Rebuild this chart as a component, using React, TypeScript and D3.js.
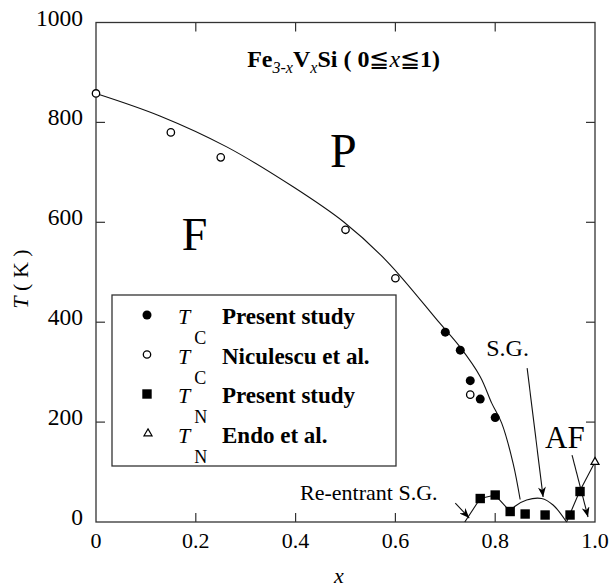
import React, { useRef, useEffect } from 'react';
import * as d3 from 'd3';

// T_C, present study (filled circles)
const tcPresentX = [0.70, 0.73, 0.75, 0.77, 0.80];
const tcPresentT = [380, 344, 283, 246, 209];
// T_C, Niculescu et al. (open circles)
const tcNicuX = [0, 0.15, 0.25, 0.5, 0.6, 0.75];
const tcNicuT = [858, 780, 730, 585, 488, 255];
// T_N, present study (filled squares)
const tnPresentX = [0.77, 0.80, 0.83, 0.86, 0.90, 0.95, 0.97];
const tnPresentT = [47, 54, 21, 16, 14, 14, 61];
// T_N, Endo et al. (open triangle)
const tnEndoX = [1.0];
const tnEndoT = [120];

// phase boundaries as drawn in the figure
const tcLineX = [0, 0.128, 0.262, 0.395, 0.496, 0.583, 0.689, 0.729, 0.77, 0.793, 0.813, 0.836, 0.85];
const tcLineT = [858, 813, 751, 671, 601, 522, 398, 351, 291, 238, 198, 117, 45];
const reLineX = [0.739, 0.77, 0.80, 0.83];
const reLineT = [0, 47, 54, 21];
const domeX = [0.83, 0.839, 0.863, 0.893, 0.916, 0.943];
const domeT = [21, 31, 44, 47, 34, 0];
const afLineX = [0.943, 0.969, 1.0];
const afLineT = [0, 61, 120];

// annotation arrows (tail -> head)
const arrowX0 = [0.72, 0.864, 0.954];
const arrowT0 = [38, 308, 134];
const arrowX1 = [0.748, 0.896, 0.986];
const arrowT1 = [8, 50, 10];

const xTicks = [0, 0.2, 0.4, 0.6, 0.8, 1.0];
const xTickLabels = ['0', '0.2', '0.4', '0.6', '0.8', '1.0'];
const yTicks = [0, 200, 400, 600, 800, 1000];
const yTickLabels = ['0', '200', '400', '600', '800', '1000'];

const legendSub = ['C', 'C', 'N', 'N'];
const legendText = ['Present study', 'Niculescu et al.', 'Present study', 'Endo et al.'];

const FONT = '"Liberation Serif", "Times New Roman", serif';

const PhaseDiagram = () => {
  const ref = useRef(null);

  useEffect(() => {
    if (!ref.current) return;
    const svg = d3.select(ref.current);
    svg.selectAll('*').remove();

    const x = d3.scaleLinear().domain([0, 1]).range([96, 595]);
    const y = d3.scaleLinear().domain([0, 1000]).range([522, 22.5]);
    const pts = (xs, ts) => xs.map((v, i) => [v, ts[i]]);

    svg.append('defs').append('marker')
      .attr('id', 'head')
      .attr('viewBox', '0 -4 10 8')
      .attr('markerUnits', 'userSpaceOnUse')
      .attr('markerWidth', 11)
      .attr('markerHeight', 8)
      .attr('refX', 10)
      .attr('refY', 0)
      .attr('orient', 'auto')
      .append('path')
      .attr('d', 'M0,-4L10,0L0,4L3,0Z')
      .attr('fill', '#000');

    // frame
    svg.append('rect')
      .attr('x', x(0)).attr('y', y(1000))
      .attr('width', x(1) - x(0)).attr('height', y(0) - y(1000))
      .attr('fill', 'none').attr('stroke', '#333').attr('stroke-width', 1.3);

    // ticks (inward, all four sides)
    const tl = 9;
    const tg = svg.append('g').attr('stroke', '#333').attr('stroke-width', 1.2);
    xTicks.slice(1, -1).forEach(t => {
      tg.append('line').attr('x1', x(t)).attr('x2', x(t)).attr('y1', y(0)).attr('y2', y(0) - tl);
      tg.append('line').attr('x1', x(t)).attr('x2', x(t)).attr('y1', y(1000)).attr('y2', y(1000) + tl);
    });
    yTicks.slice(1, -1).forEach(t => {
      tg.append('line').attr('x1', x(0)).attr('x2', x(0) + tl).attr('y1', y(t)).attr('y2', y(t));
      tg.append('line').attr('x1', x(1)).attr('x2', x(1) - tl).attr('y1', y(t)).attr('y2', y(t));
    });

    // tick labels
    xTicks.forEach((t, i) => {
      svg.append('text').attr('x', x(t)).attr('y', 548)
        .attr('text-anchor', 'middle').attr('font-family', FONT).attr('font-size', 22)
        .text(xTickLabels[i]);
    });
    yTicks.forEach((t, i) => {
      svg.append('text').attr('x', 83).attr('y', y(t) + 3)
        .attr('text-anchor', 'end').attr('font-family', FONT).attr('font-size', 23.5)
        .text(yTickLabels[i]);
    });

    // axis titles
    svg.append('text').attr('x', 339).attr('y', 583)
      .attr('text-anchor', 'middle').attr('font-family', FONT).attr('font-size', 22)
      .attr('font-style', 'italic').text('x');
    const yl = svg.append('text')
      .attr('transform', 'translate(28,279) rotate(-90)')
      .attr('text-anchor', 'middle').attr('font-family', FONT).attr('font-size', 22);
    yl.append('tspan').attr('font-style', 'italic').text('T');
    yl.append('tspan').text(' ( K )');

    // boundaries
    const line = d3.line().x(d => x(d[0])).y(d => y(d[1]));
    const lg = svg.append('g').attr('fill', 'none').attr('stroke', '#111').attr('stroke-width', 1.1);
    lg.append('path').attr('d', line.curve(d3.curveCatmullRom.alpha(0.5))(pts(tcLineX, tcLineT)));
    lg.append('path').attr('d', line.curve(d3.curveLinear)(pts(reLineX, reLineT)));
    lg.append('path').attr('d', line.curve(d3.curveCatmullRom.alpha(0.5))(pts(domeX, domeT)));
    lg.append('path').attr('d', line.curve(d3.curveLinear)(pts(afLineX, afLineT)));

    // arrows
    arrowX0.forEach((v, i) => {
      svg.append('line')
        .attr('x1', x(v)).attr('y1', y(arrowT0[i]))
        .attr('x2', x(arrowX1[i])).attr('y2', y(arrowT1[i]))
        .attr('stroke', '#111').attr('stroke-width', 1.1)
        .attr('marker-end', 'url(#head)');
    });

    // markers
    svg.append('g').selectAll('circle').data(pts(tcNicuX, tcNicuT)).enter().append('circle')
      .attr('cx', d => x(d[0])).attr('cy', d => y(d[1])).attr('r', 3.7)
      .attr('fill', '#fff').attr('stroke', '#000').attr('stroke-width', 1.3);
    svg.append('g').selectAll('circle').data(pts(tcPresentX, tcPresentT)).enter().append('circle')
      .attr('cx', d => x(d[0])).attr('cy', d => y(d[1])).attr('r', 4.5).attr('fill', '#000');
    svg.append('g').selectAll('rect').data(pts(tnPresentX, tnPresentT)).enter().append('rect')
      .attr('x', d => x(d[0]) - 4.7).attr('y', d => y(d[1]) - 4.7)
      .attr('width', 9.4).attr('height', 9.4).attr('fill', '#000');
    const tri = d3.symbol().type(d3.symbolTriangle).size(28);
    svg.append('g').selectAll('path').data(pts(tnEndoX, tnEndoT)).enter().append('path')
      .attr('transform', d => `translate(${x(d[0])},${y(d[1])})`)
      .attr('d', tri).attr('fill', '#fff').attr('stroke', '#000').attr('stroke-width', 1.2);

    // region labels
    const label = (tx, tt, s, size) =>
      svg.append('text').attr('x', x(tx)).attr('y', y(tt))
        .attr('font-family', FONT).attr('font-size', size).text(s);
    label(0.469, 711, 'P', 48);
    label(0.172, 545, 'F', 46);
    label(0.9, 148, 'AF', 31);
    label(0.782, 332, 'S.G.', 24);
    label(0.409, 44, 'Re-entrant S.G.', 22);

    // title
    const title = svg.append('text').attr('x', x(0.303)).attr('y', y(911))
      .attr('font-family', FONT).attr('font-size', 24).attr('font-weight', 'bold');
    const sub = (s, dy) => title.append('tspan').attr('dy', dy).attr('font-size', 16)
      .attr('font-style', 'italic').attr('font-weight', 'normal').text(s);
    title.append('tspan').text('Fe');
    sub('3-', 6);
    sub('x', 0);
    title.append('tspan').attr('dy', -6).text('V');
    sub('x', 6);
    title.append('tspan').attr('dy', -6).text('Si ( 0');
    title.append('tspan').attr('font-weight', 'normal').text('≦');
    title.append('tspan').attr('font-style', 'italic').attr('font-weight', 'normal').text('x');
    title.append('tspan').attr('font-weight', 'normal').text('≦');
    title.append('tspan').text('1)');

    // legend
    const lgd = svg.append('g');
    lgd.append('rect').attr('x', 112).attr('y', 295).attr('width', 284).attr('height', 171)
      .attr('fill', '#fff').attr('stroke', '#333').attr('stroke-width', 1.3);
    legendText.forEach((s, i) => {
      const cy = 315 + i * 39.5;
      if (i === 0) lgd.append('circle').attr('cx', 147).attr('cy', cy).attr('r', 4.5).attr('fill', '#000');
      if (i === 1) lgd.append('circle').attr('cx', 147).attr('cy', cy).attr('r', 3.7)
        .attr('fill', '#fff').attr('stroke', '#000').attr('stroke-width', 1.3);
      if (i === 2) lgd.append('rect').attr('x', 142.3).attr('y', cy - 4.7).attr('width', 9.4).attr('height', 9.4).attr('fill', '#000');
      if (i === 3) lgd.append('path').attr('transform', `translate(148,${cy})`).attr('d', tri)
        .attr('fill', '#fff').attr('stroke', '#000').attr('stroke-width', 1.2);
      const t = lgd.append('text').attr('x', 178).attr('y', cy + 9)
        .attr('font-family', FONT).attr('font-size', 22);
      t.append('tspan').attr('font-style', 'italic').text('T');
      t.append('tspan').attr('dx', 4).attr('dy', 20).attr('font-size', 18).text(legendSub[i]);
      t.append('tspan').attr('x', 222).attr('dy', -20).attr('font-size', 23).attr('font-weight', 'bold').text(s);
    });
  }, []);

  return (
    <svg ref={ref} width={612} height={588}
      style={{ position: 'absolute', left: 0, top: 0, background: '#fff' }} />
  );
};

export default function App() {
  return <PhaseDiagram />;
}
